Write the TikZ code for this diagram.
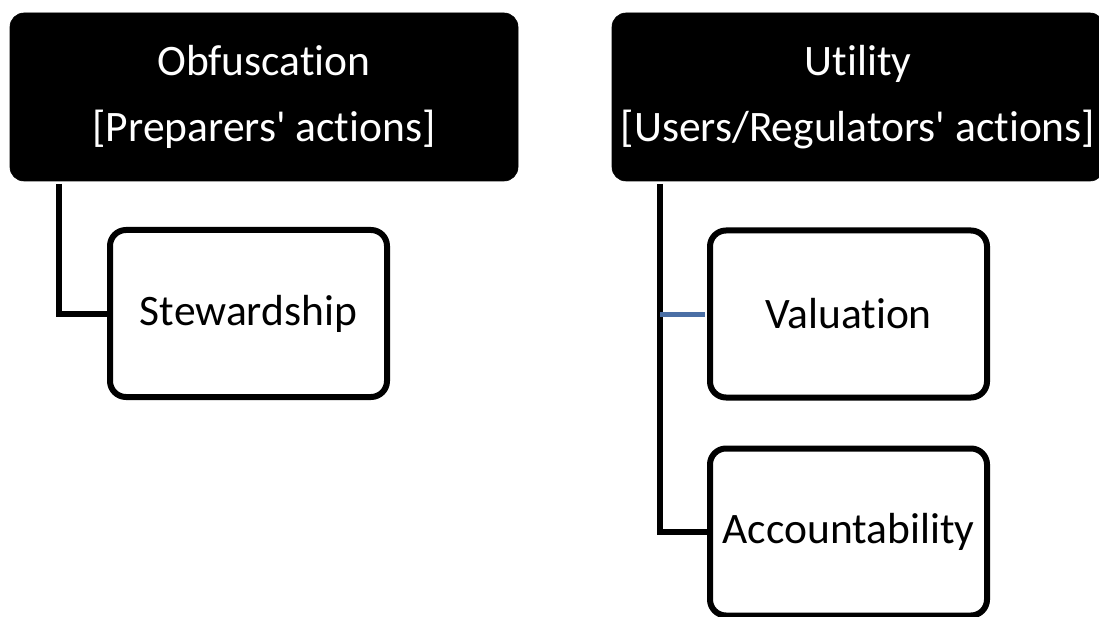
\documentclass[tikz,border=0pt]{standalone}
\usepackage{fontspec}
\setmainfont{Carlito}[Ligatures=NoCommon]
\definecolor{linkblue}{HTML}{4A6FA5}
\begin{document}
\begin{tikzpicture}[x=1pt,y=-1pt,
  header/.style={draw=black,fill=black,rounded corners=14pt,line width=0.6pt,
    text=white,align=center,inner sep=0pt,
    font=\fontsize{43.5}{68}\selectfont},
  childbox/.style={draw=black,fill=white,rounded corners=16pt,line width=6pt,
    inner sep=0pt,minimum width=277pt,minimum height=167pt,
    font=\fontsize{43.5}{52}\selectfont},
  link/.style={line width=6pt,draw=black},
  bluelink/.style={line width=5pt,draw=linkblue}]
\useasboundingbox (0,0) rectangle (1099,617);
\clip (0,0) rectangle (1099,617);
\fill[white] (0,0) rectangle (1099,617);
% header boxes
\node[header,minimum width=508pt,minimum height=168pt] (obf) at (264,97)
  {\raisebox{-2pt}{Obfuscation}\\{}[Preparers\textquotesingle\ actions]};
\node[header,minimum width=492pt,minimum height=168pt] (uti) at (858,97)
  {\raisebox{-2pt}{Utility}\\{}[Users/Regulators\textquotesingle\ actions]};
% child boxes
\node[childbox] (stew) at (248.5,313.5) {Stewardship};
\node[childbox] (val) at (848.5,314) {Valuation};
\node[childbox] (acc) at (848.5,532) {Accountability};
% connectors
\coordinate (ls) at (58.5,184);
\coordinate (rs) at (660,184);
\draw[link] (ls) |- (stew.west);
\draw[link] (rs) |- (acc.west);
\draw[bluelink] (rs |- val.west) -- ([xshift=-2pt]val.west);
\end{tikzpicture}
\end{document}
